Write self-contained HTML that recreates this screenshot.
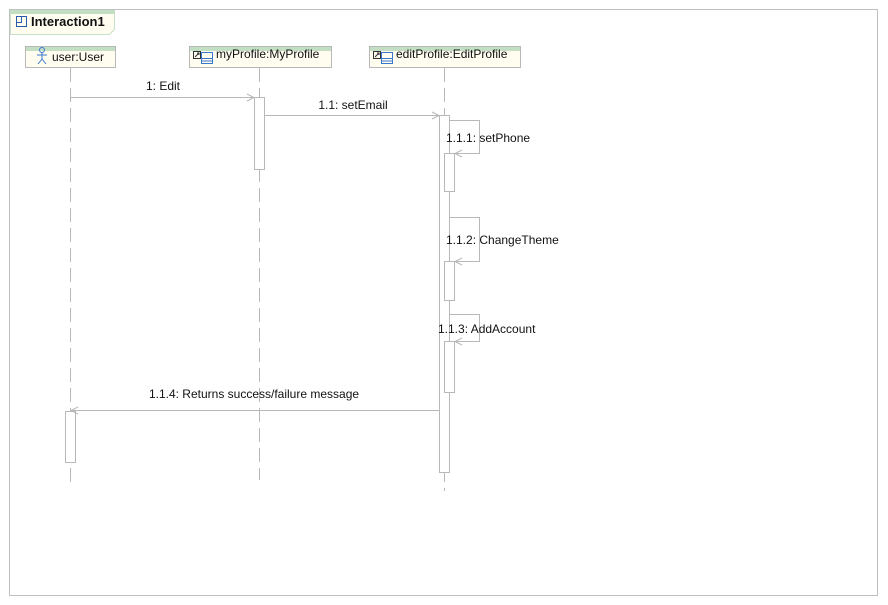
<!DOCTYPE html>
<html><head><meta charset="utf-8"><style>
html,body{margin:0;padding:0;background:#fff;}
svg{display:block;}
text{font-family:"Liberation Sans",sans-serif;font-size:12px;fill:#111;}
</style></head><body>
<svg width="888" height="605" viewBox="0 0 888 605" xmlns="http://www.w3.org/2000/svg">
<rect x="9.5" y="9.5" width="868" height="586" fill="#fff" stroke="#c0c0c0"/>
<!-- tab -->
<path d="M10.5 10.5 H114.5 V29.5 L109.5 34.5 H10.5 Z" fill="#fffcf0" stroke="#c8e0c8"/>
<rect x="10" y="10" width="105" height="4" fill="#c3dfc3"/>
<rect x="16.5" y="16.5" width="10" height="10" fill="none" stroke="#2a5db0"/>
<path d="M16.5 22.5 H21.5 V16.5" fill="none" stroke="#2a5db0"/>
<text x="31" y="26" style="font-weight:bold;font-size:13px">Interaction1</text>

<!-- lifeline heads -->
<g stroke="#b8b8b8" fill="#fffcf0">
<rect x="25.5" y="46.5" width="90" height="21"/>
<rect x="189.5" y="46.5" width="142" height="21"/>
<rect x="369.5" y="46.5" width="151" height="21"/>
</g>
<g fill="#c3dfc3">
<rect x="26" y="47" width="89" height="4"/>
<rect x="190" y="47" width="141" height="4"/>
<rect x="370" y="47" width="150" height="4"/>
</g>
<!-- actor icon -->
<g stroke="#3a78d0" fill="none">
<circle cx="42" cy="50" r="2.5"/>
<path d="M42 52.5 V59 M37 55 H47 M42 59 L38 64 M42 59 L46 64"/>
</g>
<text x="52" y="61">user:User</text>
<!-- class icons -->
<g stroke="#3a78d0" fill="none">
<rect x="193.5" y="51.5" width="7" height="7" stroke="#333"/>
<path d="M195 57 L199 53 M197 53 H199 V55" stroke="#333"/>
<path d="M201.5 52.5 H212.5 V63.5 H201.5 Z M201.5 58.5 H212.5 M201.5 61 H212.5"/>
<rect x="373.5" y="51.5" width="7" height="7" stroke="#333"/>
<path d="M375 57 L379 53 M377 53 H379 V55" stroke="#333"/>
<path d="M381.5 52.5 H392.5 V63.5 H381.5 Z M381.5 58.5 H392.5 M381.5 61 H392.5"/>
</g>
<text x="216" y="58">myProfile:MyProfile</text>
<text x="396" y="58">editProfile:EditProfile</text>

<!-- lifelines -->
<g stroke="#b8b8b8" stroke-dasharray="14 6" fill="none">
<path d="M70.5 68 V484"/>
<path d="M259.5 68 V480"/>
<path d="M444.5 68 V491"/>
</g>

<!-- activations -->
<g stroke="#b8b8b8" fill="#fff">
<rect x="254.5" y="97.5" width="10" height="72"/>
<rect x="439.5" y="115.5" width="10" height="357"/>
<rect x="444.5" y="153.5" width="10" height="38"/>
<rect x="444.5" y="261.5" width="10" height="39"/>
<rect x="444.5" y="341.5" width="10" height="51"/>
<rect x="65.5" y="411.5" width="10" height="51"/>
</g>

<!-- messages -->
<g stroke="#b8b8b8" fill="none">
<path d="M70.5 97.5 H254"/>
<path d="M247 94 L254 97.5 L247 101"/>
<path d="M264.5 115.5 H439"/>
<path d="M432 112 L439 115.5 L432 119"/>
<path d="M449.5 120.5 H479.5 V153.5 H455"/>
<path d="M462 150 L455 153.5 L462 157"/>
<path d="M449.5 217.5 H479.5 V261.5 H455"/>
<path d="M462 258 L455 261.5 L462 265"/>
<path d="M449.5 314.5 H479.5 V341.5 H455"/>
<path d="M462 338 L455 341.5 L462 345"/>
<path d="M439 410.5 H71"/>
<path d="M78 407 L71 410.5 L78 414"/>
</g>

<text x="163" y="90" text-anchor="middle">1: Edit</text>
<text x="353" y="109" text-anchor="middle">1.1: setEmail</text>
<text x="446" y="142">1.1.1: setPhone</text>
<text x="446" y="244">1.1.2: ChangeTheme</text>
<text x="438" y="333">1.1.3: AddAccount</text>
<text x="254" y="398" text-anchor="middle">1.1.4: Returns success/failure message</text>
</svg>
</body></html>
